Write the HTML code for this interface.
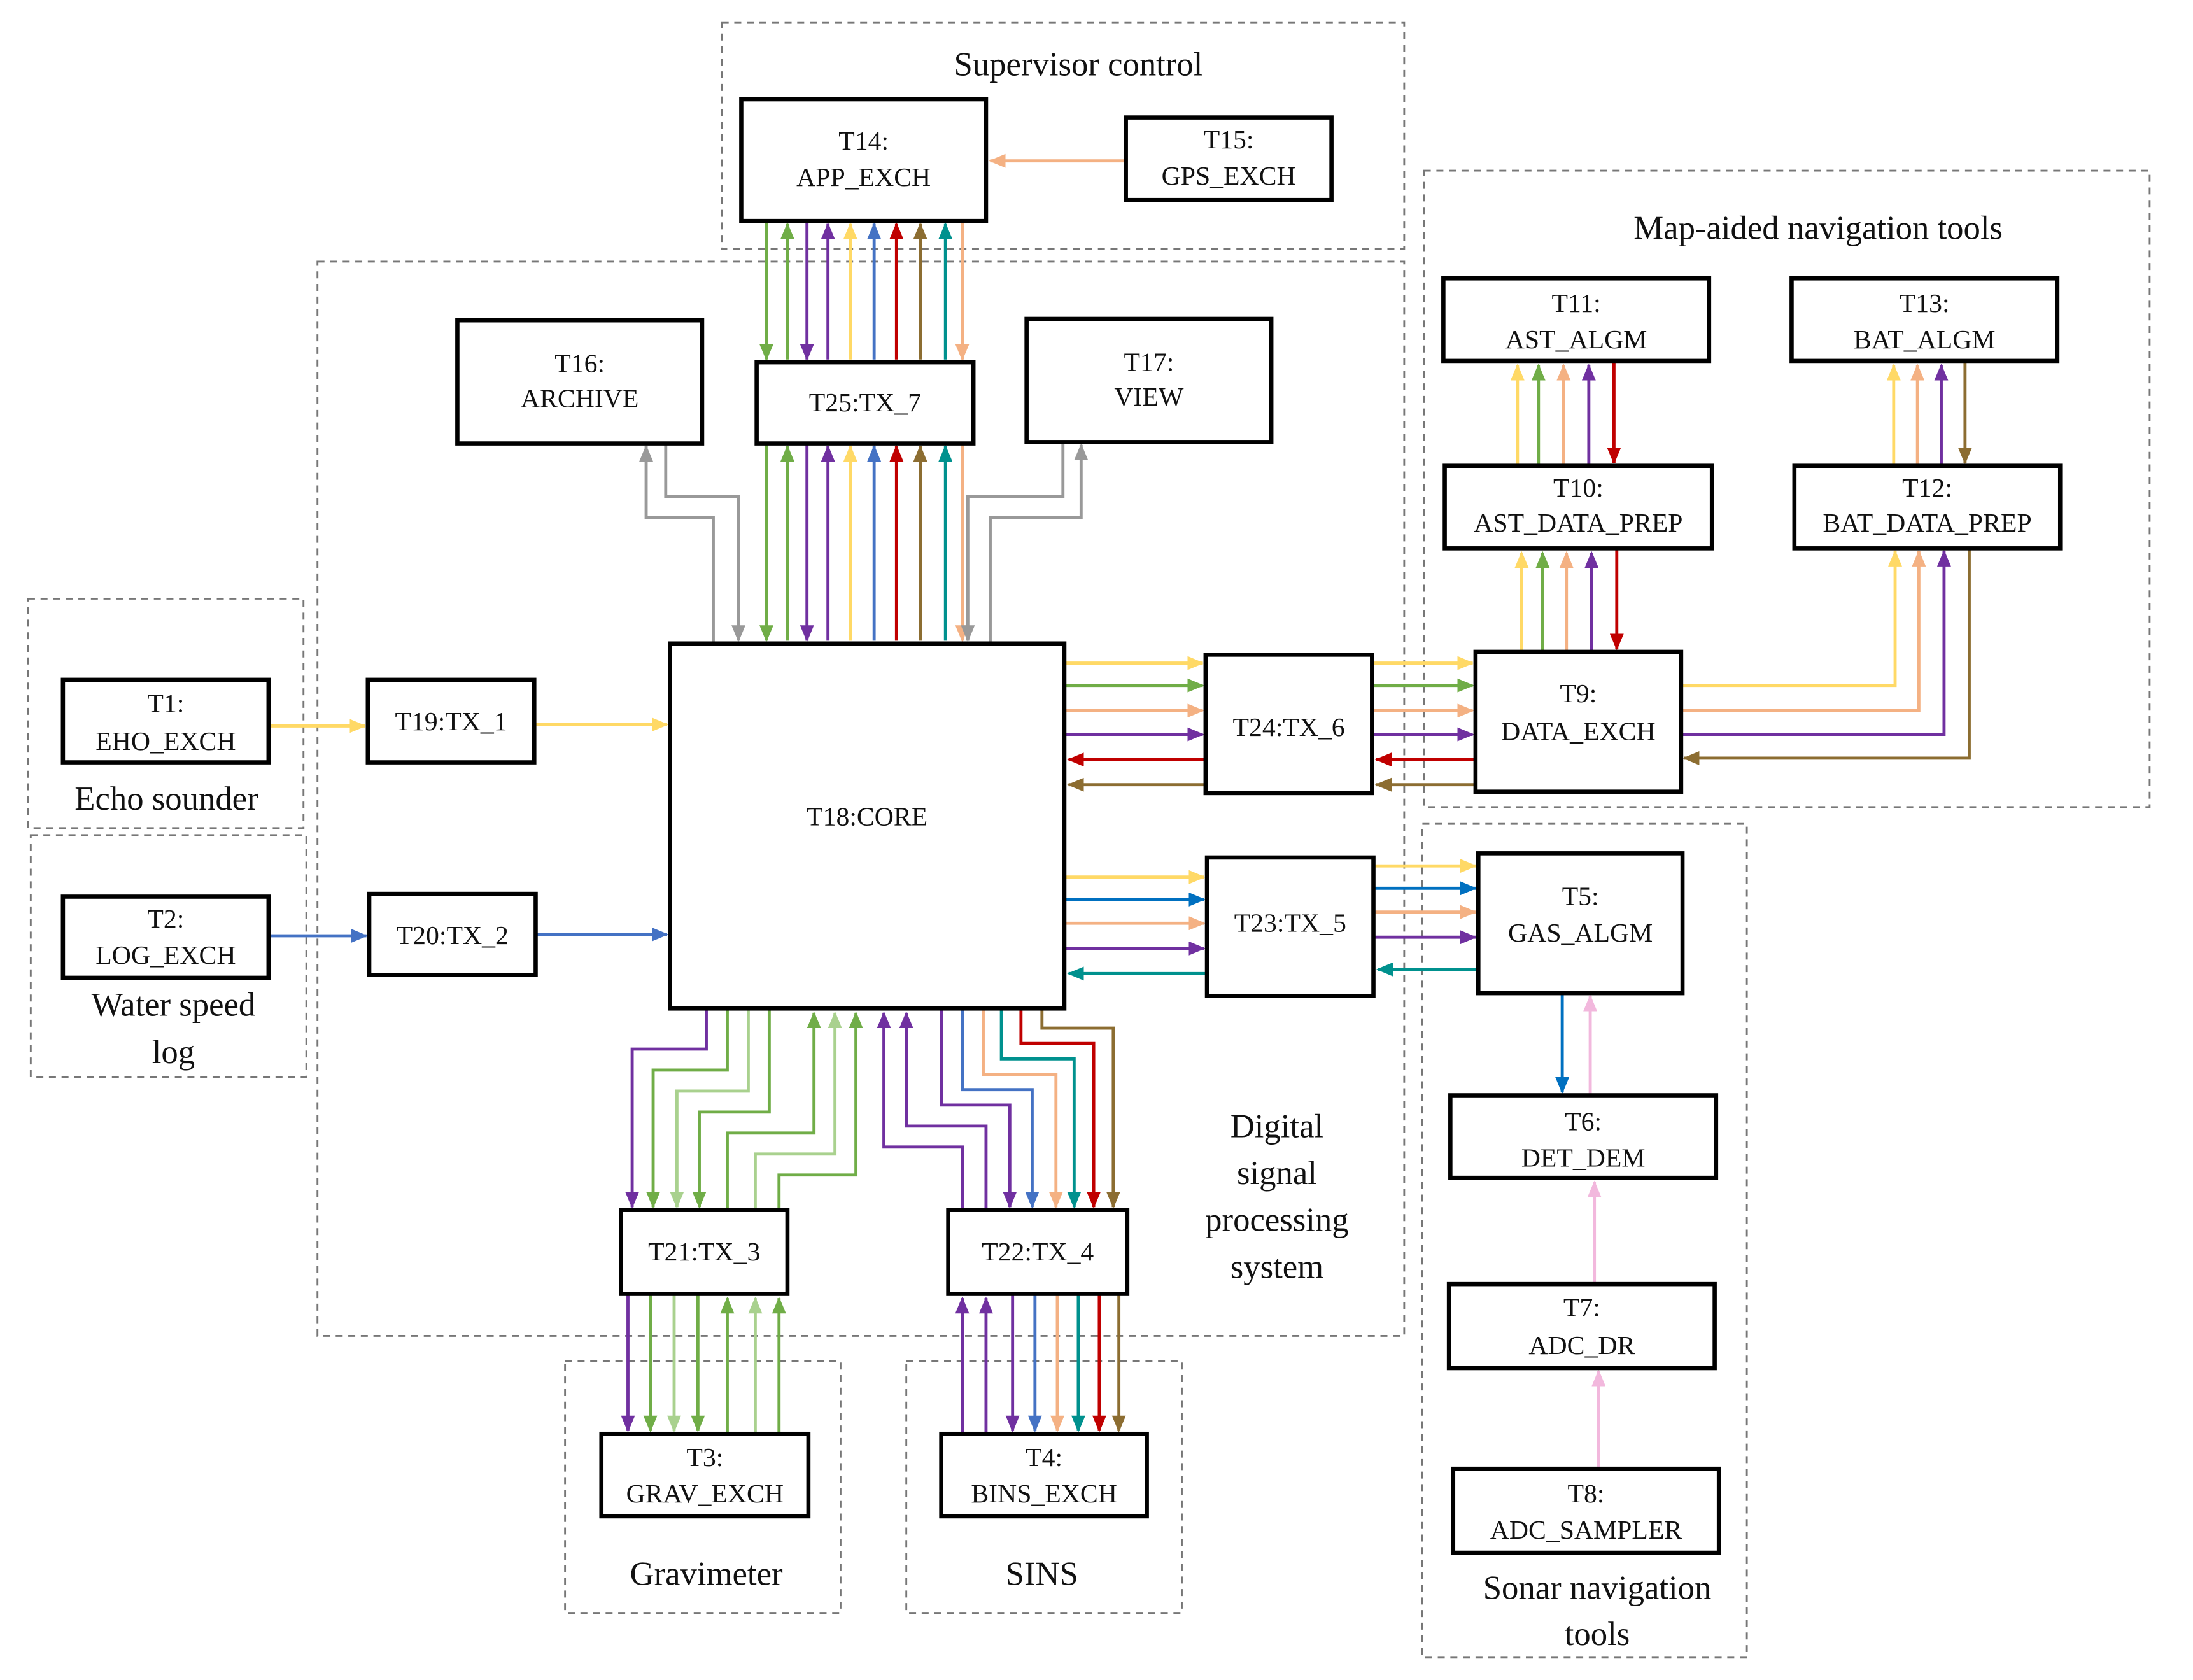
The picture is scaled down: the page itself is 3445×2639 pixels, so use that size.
<!DOCTYPE html>
<html><head><meta charset="utf-8"><style>
html,body{margin:0;padding:0;background:#fff;}
svg{display:block;}
</style></head><body>
<svg id="s" xmlns="http://www.w3.org/2000/svg" width="3445" height="2639" viewBox="0 0 1568 1201" preserveAspectRatio="none" font-family="'Liberation Serif', serif"></svg>
<script>
const S=document.getElementById('s');
const C={Y:'#ffd966',G:'#70ad47',LG:'#a9d18e',P:'#7030a0',B:'#4472c4',B2:'#0070c0',R:'#c00000',BR:'#8c6d31',T:'#00918e',PE:'#f4b183',GR:'#999999',PK:'#f2b8dd'};
let h='<defs>';
for(const k in C){h+=`<marker id="m${k}" markerUnits="userSpaceOnUse" markerWidth="12" markerHeight="10" refX="11" refY="5" orient="auto"><path d="M0,0 L12,5 L0,10 z" fill="${C[k]}"/></marker>`;}
h+='</defs>';
function A(pts,c,noarrow){h+=`<polyline points="${pts.map(p=>p.join(',')).join(' ')}" fill="none" stroke="${C[c]}" stroke-width="2.2" ${noarrow?'':`marker-end="url(#m${c})"`}/>`;}
function D(x1,y1,x2,y2){h+=`<rect x="${x1}" y="${y1}" width="${x2-x1}" height="${y2-y1}" fill="none" stroke="#777" stroke-width="1.3" stroke-dasharray="5,4"/>`;}
function T(x,y,s,fs){h+=`<text x="${x}" y="${y}" font-size="${fs||19}" text-anchor="middle" font-family="'Liberation Serif', serif" fill="#111">${s}</text>`;}
function Bx(x1,y1,x2,y2,lines,ys){h+=`<rect x="${x1}" y="${y1}" width="${x2-x1}" height="${y2-y1}" fill="#fff" stroke="#000" stroke-width="3"/>`;const cx=(x1+x2)/2;lines.forEach((l,i)=>T(cx,ys[i],l,19));}
D(516,16,1004,178);T(771,54,'Supervisor control',24);
D(227,187,1004,955);
D(1018,122,1537,577);T(1300,171,'Map-aided navigation tools',24);
D(20,428,217,592);T(119,579,'Echo sounder',24);
D(22,597,219,770);T(124,726,'Water speed',24);T(124,760,'log',24);
D(1017,589,1249,1185);T(1142,1143,'Sonar navigation',24);T(1142,1176,'tools',24);
D(404,973,601,1153);T(505,1133,'Gravimeter',24);
D(648,973,845,1153);T(745,1133,'SINS',24);
['Digital','signal','processing','system'].forEach((s,i)=>T(913,813+i*33.5,s,24));
A([[805,115],[708,115]],'PE');
const vs=[[548,'G',1],[563,'G',0],[577,'P',1],[592,'P',0],[608,'Y',0],[625,'B',0],[641,'R',0],[658,'BR',0],[676,'T',0],[688,'PE',1]];
vs.forEach(([x,c,d])=>{ if(d){A([[x,159],[x,257]],c);A([[x,318],[x,458]],c);} else {A([[x,257],[x,160]],c);A([[x,458],[x,319]],c);} });
A([[510,460],[510,370],[462,370],[462,319]],'GR');
A([[476,317],[476,355],[528,355],[528,458]],'GR');
A([[708,460],[708,370],[773,370],[773,318]],'GR');
A([[760,316],[760,355],[692,355],[692,458]],'GR');
A([[192,519],[261,519]],'Y');A([[382,518],[477,518]],'Y');
A([[192,669],[262,669]],'B');A([[383,668],[477,668]],'B');
const r1=[[474,'Y',1],[490,'G',1],[508,'PE',1],[525,'P',1],[543,'R',0],[561,'BR',0]];
r1.forEach(([y,c,d])=>{ if(d){A([[762,y],[860,y]],c);A([[981,y],[1053,y]],c);} else {A([[862,y],[764,y]],c);A([[1055,y],[984,y]],c);} });
[[1088,'Y',0],[1103,'G',0],[1120,'PE',0],[1138,'P',0],[1156,'R',1]].forEach(([x,c,d])=>{ if(d)A([[x,393],[x,464]],c); else A([[x,466],[x,395]],c);});
[[1085,'Y',0],[1100,'G',0],[1118,'PE',0],[1136,'P',0],[1154,'R',1]].forEach(([x,c,d])=>{ if(d)A([[x,259],[x,331]],c); else A([[x,333],[x,261]],c);});
[[1354,'Y',0],[1371,'PE',0],[1388,'P',0],[1405,'BR',1]].forEach(([x,c,d])=>{ if(d)A([[x,259],[x,331]],c); else A([[x,333],[x,261]],c);});
A([[1202,490],[1355,490],[1355,394]],'Y');
A([[1202,508],[1372,508],[1372,394]],'PE');
A([[1202,525],[1390,525],[1390,394]],'P');
A([[1408,392],[1408,542],[1204,542]],'BR');
[[627,'Y',1],[643,'B2',1],[660,'PE',1],[678,'P',1],[696,'T',0]].forEach(([y,c,d])=>{ if(d)A([[762,y],[861,y]],c); else A([[863,y],[764,y]],c);});
[[619,'Y',1],[635,'B2',1],[652,'PE',1],[670,'P',1],[693,'T',0]].forEach(([y,c,d])=>{ if(d)A([[982,y],[1055,y]],c); else A([[1057,y],[985,y]],c);});
A([[1117,710],[1117,781]],'B2');
A([[1137,782],[1137,712]],'PK');
A([[1140,918],[1140,845]],'PK');
A([[1143,1050],[1143,980]],'PK');
[[505,452,750,'P'],[520,467,765,'G'],[535,484,780,'LG'],[550,500,795,'G']].forEach(([a,b,y,c])=>A([[a,722],[a,y],[b,y],[b,863]],c));
[[520,582,810,'G'],[540,597,825,'LG'],[557,612,840,'G']].forEach(([a,b,y,c])=>A([[a,865],[a,y],[b,y],[b,724]],c));
[[449,'P'],[465,'G'],[482,'LG'],[499,'G']].forEach(([x,c])=>A([[x,926],[x,1023]],c));
[[520,'G'],[540,'LG'],[557,'G']].forEach(([x,c])=>A([[x,1025],[x,928]],c));
A([[688,865],[688,820],[632,820],[632,724]],'P');
A([[705,865],[705,805],[648,805],[648,724]],'P');
[[673,722,790,'P'],[688,738,779,'B'],[703,755,768,'PE'],[716,768,757,'T'],[730,782,746,'R'],[745,796,735,'BR']].forEach(([a,b,y,c])=>A([[a,722],[a,y],[b,y],[b,863]],c));
[[688,'P'],[705,'P']].forEach(([x,c])=>A([[x,1025],[x,928]],c));
[[724,'P'],[740,'B'],[756,'PE'],[771,'T'],[786,'R'],[800,'BR']].forEach(([x,c])=>A([[x,926],[x,1023]],c));
Bx(530,71,705,158,['T14:','APP_EXCH'],[107,133]);
Bx(805,84,952,143,['T15:','GPS_EXCH'],[106,132]);
Bx(327,229,502,317,['T16:','ARCHIVE'],[266,291]);
Bx(541,259,696,317,['T25:TX_7'],[294]);
Bx(734,228,909,316,['T17:','VIEW'],[265,290]);
Bx(1032,199,1222,258,['T11:','AST_ALGM'],[223,249]);
Bx(1281,199,1471,258,['T13:','BAT_ALGM'],[223,249]);
Bx(1033,333,1224,392,['T10:','AST_DATA_PREP'],[355,380]);
Bx(1283,333,1473,392,['T12:','BAT_DATA_PREP'],[355,380]);
Bx(1055,466,1202,566,['T9:','DATA_EXCH'],[502,529]);
Bx(45,486,192,545,['T1:','EHO_EXCH'],[509,536]);
Bx(45,641,192,699,['T2:','LOG_EXCH'],[663,689]);
Bx(263,486,382,545,['T19:TX_1'],[522]);
Bx(264,639,383,697,['T20:TX_2'],[675]);
Bx(479,460,761,721,['T18:CORE'],[590]);
Bx(862,468,981,567,['T24:TX_6'],[526]);
Bx(863,613,982,712,['T23:TX_5'],[666]);
Bx(1057,610,1203,710,['T5:','GAS_ALGM'],[647,673]);
Bx(1037,783,1227,842,['T6:','DET_DEM'],[808,834]);
Bx(1036,918,1226,978,['T7:','ADC_DR'],[941,968]);
Bx(1039,1050,1229,1110,['T8:','ADC_SAMPLER'],[1074,1100]);
Bx(444,865,563,925,['T21:TX_3'],[901]);
Bx(678,865,806,925,['T22:TX_4'],[901]);
Bx(430,1025,578,1084,['T3:','GRAV_EXCH'],[1048,1074]);
Bx(673,1025,820,1084,['T4:','BINS_EXCH'],[1048,1074]);
S.innerHTML=h;
</script>
</body></html>
